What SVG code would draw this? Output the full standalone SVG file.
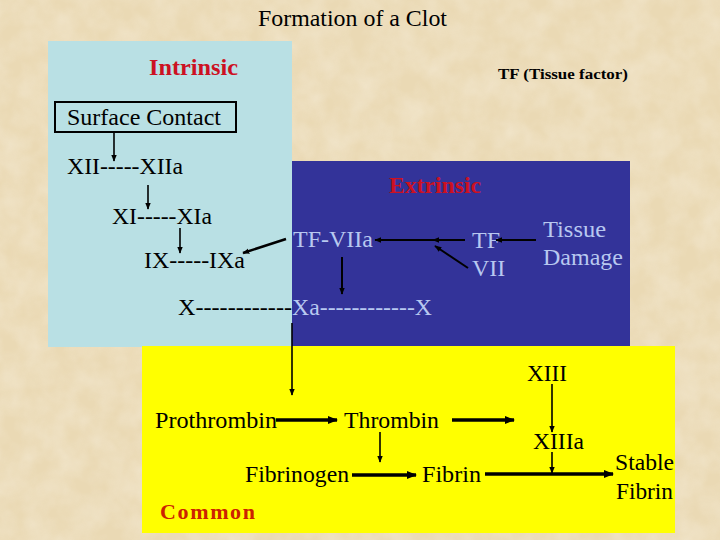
<svg xmlns="http://www.w3.org/2000/svg" width="720" height="540" viewBox="0 0 720 540">
<defs>
<marker id="ahs" viewBox="0 0 10 10" refX="9" refY="5" markerWidth="7" markerHeight="7" orient="auto" markerUnits="userSpaceOnUse">
<path d="M0,1 L10,5 L0,9 z" fill="#000"/>
</marker>
<marker id="ahb" viewBox="0 0 10 10" refX="9" refY="5" markerWidth="10" markerHeight="10" orient="auto" markerUnits="userSpaceOnUse">
<path d="M0,1 L10,5 L0,9 z" fill="#000"/>
</marker>
<filter id="tex" x="0" y="0" width="100%" height="100%">
<feTurbulence type="fractalNoise" baseFrequency="0.04" numOctaves="3" seed="3"/>
<feColorMatrix type="matrix" values="0 0 0 0 0.93  0 0 0 0 0.86  0 0 0 0 0.72  0 0 0 -1.2 0.9"/>
</filter>
</defs>
<style>
text{font-family:"Liberation Serif",serif}
.k{fill:#000;font-size:24px}
.lb{fill:#b8c8f0;font-size:24px}
.red{fill:#cc1122;font-size:24px;font-weight:bold}
.thin{stroke:#000;stroke-width:1.6;fill:none;marker-end:url(#ahs)}
.thick{stroke:#000;stroke-width:3.5;fill:none;marker-end:url(#ahb)}
</style>
<rect width="720" height="540" fill="#ead9b4"/>
<rect width="720" height="540" fill="#f2e6c8" filter="url(#tex)" opacity="0.6"/>

<g id="panels">
<rect id="intrinsic-panel" x="48" y="41" width="244" height="306" fill="#b9e0e4"/>
<rect id="extrinsic-panel" x="292" y="161" width="338" height="185" fill="#333399"/>
<rect id="common-panel" x="142" y="346" width="533" height="187" fill="#ffff00"/>
</g>

<g font-family="Liberation Serif">
<g id="title"><text x="258" y="26" class="k" textLength="189" lengthAdjust="spacingAndGlyphs">Formation of a Clot</text></g>
<g id="intrinsic-label"><text x="149" y="75" class="red" textLength="89" lengthAdjust="spacingAndGlyphs">Intrinsic</text></g>
<g id="tf-label"><text x="498" y="79" font-size="15" font-weight="bold" fill="#000" textLength="130" lengthAdjust="spacingAndGlyphs">TF (Tissue factor)</text></g>
<g id="surface-contact"><rect x="55" y="102" width="181" height="30" fill="none" stroke="#000" stroke-width="2"/><text x="67" y="125" class="k" textLength="154" lengthAdjust="spacingAndGlyphs">Surface Contact</text></g>
<g id="xii"><text x="67" y="174" class="k" textLength="116" lengthAdjust="spacingAndGlyphs">XII-----XIIa</text></g>
<g id="xi"><text x="112" y="224" class="k" textLength="100" lengthAdjust="spacingAndGlyphs">XI-----XIa</text></g>
<g id="ix"><text x="144" y="268" class="k" textLength="101" lengthAdjust="spacingAndGlyphs">IX-----IXa</text></g>
<g id="extrinsic-label"><text x="389" y="193" class="red" textLength="92" lengthAdjust="spacingAndGlyphs">Extrinsic</text></g>
<g id="tf-viia"><text x="293" y="247" class="lb" textLength="80" lengthAdjust="spacingAndGlyphs">TF-VIIa</text></g>
<g id="tf"><text x="472" y="248" class="lb">TF</text></g>
<g id="vii"><text x="472" y="276" class="lb">VII</text></g>
<g id="tissue-damage"><text x="543" y="237" class="lb" textLength="63" lengthAdjust="spacingAndGlyphs">Tissue</text><text x="543" y="265" class="lb" textLength="80" lengthAdjust="spacingAndGlyphs">Damage</text></g>
<g id="x-xa-x"><text x="178" y="315" class="k" textLength="114" lengthAdjust="spacingAndGlyphs">X------------</text><text x="292" y="315" class="lb" textLength="140" lengthAdjust="spacingAndGlyphs">Xa------------X</text></g>
<g id="prothrombin"><text x="155" y="428" class="k" textLength="122" lengthAdjust="spacingAndGlyphs">Prothrombin</text></g>
<g id="thrombin"><text x="344" y="428" class="k" textLength="95" lengthAdjust="spacingAndGlyphs">Thrombin</text></g>
<g id="fibrinogen"><text x="245" y="482" class="k" textLength="104" lengthAdjust="spacingAndGlyphs">Fibrinogen</text></g>
<g id="fibrin"><text x="422" y="482" class="k" textLength="59" lengthAdjust="spacingAndGlyphs">Fibrin</text></g>
<g id="common-label"><text x="160" y="519" class="red" style="fill:#cc2200;font-size:22px" textLength="95" lengthAdjust="spacing">Common</text></g>
<g id="xiii"><text x="527" y="381" class="k" textLength="40" lengthAdjust="spacingAndGlyphs">XIII</text></g>
<g id="xiiia"><text x="533" y="449" class="k" textLength="51" lengthAdjust="spacingAndGlyphs">XIIIa</text></g>
<g id="stable-fibrin"><text x="615" y="470" class="k" textLength="59" lengthAdjust="spacingAndGlyphs">Stable</text><text x="616" y="499" class="k" textLength="57" lengthAdjust="spacingAndGlyphs">Fibrin</text></g>
</g>

<g id="connectors">
<path class="thin" d="M114,132 V161"/>
<path class="thin" d="M148,185 V209"/>
<path class="thin" d="M180,228 V253"/>
<path class="thin" d="M286,239 L243,253" style="stroke-width:2.5"/>
<path class="thin" d="M465,240 H375" style="stroke-width:2"/>
<path class="thin" d="M468,268 L435,246" style="stroke-width:2"/>
<path d="M440,240 L433,240" stroke="none" fill="none" marker-end="url(#ahs)"/>
<path class="thin" d="M536,240 H496" style="stroke-width:2"/>
<path class="thin" d="M342,257 V294" style="stroke-width:2"/>
<path class="thin" d="M292,323 V395"/>
<path class="thick" d="M276,420 H337"/>
<path class="thin" d="M380,432 V462"/>
<path class="thick" d="M352,475 H416"/>
<path class="thick" d="M452,420 H514"/>
<path class="thin" d="M552,384 V432"/>
<path class="thin" d="M552,452 V473"/>
<path class="thick" d="M485,474 H613"/>
</g>
</svg>
